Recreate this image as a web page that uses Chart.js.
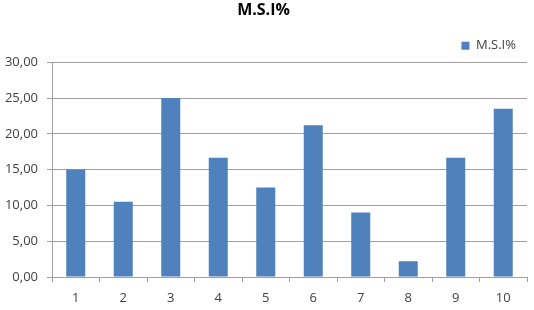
<!DOCTYPE html>
<html>
<head>
<meta charset="utf-8">
<script src="https://cdn.jsdelivr.net/npm/chart.js@4"></script>
<style>
  html, body { margin: 0; padding: 0; background: #fff; }
  #wrap { width: 534px; height: 310px; }
</style>
</head>
<body>
<div id="wrap"><canvas id="chart"></canvas></div>
<script>
// chart data
const categories = ["1", "2", "3", "4", "5", "6", "7", "8", "9", "10"];
const msiValues = [15.0, 10.5, 25.0, 16.67, 12.5, 21.2, 9.0, 2.2, 16.67, 23.5];
const yTicks = [0, 5, 10, 15, 20, 25, 30];

const seriesName = "M.S.I%";
const gridColor = "#a0a0a0";
const textColor = "#404040";
const fontFamily = "'Open Sans', 'Liberation Sans', sans-serif";

const ctx = document.getElementById("chart").getContext("2d");

new Chart(ctx, {
    type: "bar",
    data: {
        labels: categories,
        datasets: [{
            label: seriesName,
            data: msiValues,
            backgroundColor: "#4f81bd",
            borderWidth: 0,
            barPercentage: 0.4,
            categoryPercentage: 1.0
        }]
    },
    options: {
        responsive: true,
        maintainAspectRatio: false,
        animation: false,
        layout: { padding: { left: 0, right: 7, top: 1, bottom: 0 } },
        plugins: {
            title: {
                display: true,
                text: seriesName,
                color: "#000",
                font: { family: fontFamily, size: 16, weight: "bold" },
                padding: { top: 0, bottom: 8 }
            },
            legend: {
                display: true,
                position: "top",
                align: "end",
                labels: {
                    boxWidth: 8,
                    boxHeight: 8,
                    color: textColor,
                    font: { family: fontFamily, size: 13 },
                    padding: 11
                }
            },
            tooltip: { enabled: false }
        },
        scales: {
            x: {
                offset: true,
                afterFit: function (axis) {
                    axis.height = 33;
                },
                grid: {
                    offset: true,
                    drawOnChartArea: false,
                    drawTicks: true,
                    tickLength: 5,
                    color: gridColor
                },
                border: { color: gridColor, width: 1 },
                ticks: {
                    color: textColor,
                    font: { family: fontFamily, size: 13 },
                    padding: 8,
                    maxRotation: 0
                }
            },
            y: {
                min: 0,
                max: 30,
                afterBuildTicks: function (axis) {
                    axis.ticks = yTicks.map(v => ({ value: v }));
                },
                afterFit: function (axis) {
                    axis.width = 52;
                },
                grid: {
                    color: gridColor,
                    drawTicks: true,
                    tickLength: 5
                },
                border: { color: gridColor, width: 1 },
                ticks: {
                    color: textColor,
                    font: { family: fontFamily, size: 13 },
                    padding: 9,
                    callback: function (value) {
                        return value.toFixed(2).replace(".", ",");
                    }
                }
            }
        }
    }
});
</script>
</body>
</html>
